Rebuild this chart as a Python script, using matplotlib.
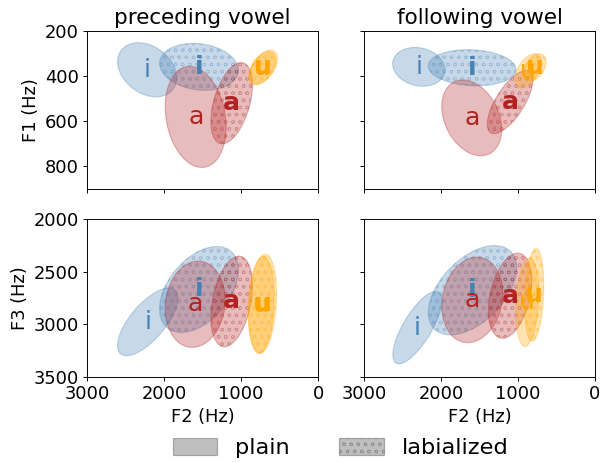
import numpy as np
import matplotlib
matplotlib.use('Agg')
import matplotlib.pyplot as plt
from matplotlib.patches import Ellipse, Patch

# vowel ellipses: mean F2, mean F1/F3, sd F2, sd F1/F3, correlation
vowels = ['i', 'i', 'a', 'a', 'u', 'u']
labialized = [False, True, False, True, False, True]
colors = {'i': 'steelblue', 'a': 'firebrick', 'u': 'orange'}

# preceding vowel, F1
pre_f2 = [2220, 1547, 1590, 1123, 725, 712]
pre_f1 = [373, 360, 582, 521, 366, 362]
pre_f2_sd = [192, 256, 198, 135, 88, 92]
pre_f1_sd = [60, 52, 112, 90, 36, 38]
pre_r1 = [-0.3, -0.15, -0.2, 0.45, 0.5, 0.5]

# following vowel, F1
fol_f2 = [2288, 1596, 1601, 1103, 870, 780]
fol_f1 = [360, 364, 586, 516, 378, 362]
fol_f2_sd = [170, 285, 195, 148, 85, 72]
fol_f1_sd = [43, 40, 84, 70, 38, 30]
fol_r1 = [-0.15, -0.1, -0.3, 0.7, 0.5, 0.4]

# preceding vowel, F3
pre_f2_3 = [2214, 1547, 1597, 1123, 740, 720]
pre_f3 = [2976, 2669, 2809, 2783, 2815, 2805]
pre_f2_sd3 = [196, 256, 195, 135, 85, 90]
pre_f3_sd = [161, 204, 205, 215, 230, 235]
pre_r3 = [0.7, 0.45, 0.1, 0.35, 0.15, 0.2]

# following vowel, F3
fol_f2_3 = [2308, 1591, 1594, 1103, 880, 790]
fol_f3 = [3031, 2676, 2768, 2728, 2790, 2720]
fol_f2_sd3 = [159, 287, 198, 141, 75, 62]
fol_f3_sd = [172, 212, 203, 202, 210, 220]
fol_r3 = [0.75, 0.5, 0.15, 0.35, 0.2, 0.2]

n_std = 2.0


def draw_ellipses(ax, mx, my, sx, sy, rr):
    for v, lab, x, y, a, b, r in zip(vowels, labialized, mx, my, sx, sy, rr):
        cov = np.array([[a * a, r * a * b], [r * a * b, b * b]])
        vals, vecs = np.linalg.eigh(cov)
        order = vals.argsort()[::-1]
        vals, vecs = vals[order], vecs[:, order]
        angle = np.degrees(np.arctan2(vecs[1, 0], vecs[0, 0]))
        w, h = 2 * n_std * np.sqrt(vals)
        c = colors[v]
        e = Ellipse((x, y), w, h, angle=angle, facecolor=c, edgecolor=c,
                    alpha=0.3, lw=1, hatch='oo' if lab else None)
        ax.add_patch(e)
        ax.text(x, y, v, color=c, fontsize=21, ha='center', va='center',
                fontweight='bold' if lab else 'normal')


plt.rcParams['hatch.linewidth'] = 0.6
fig, axes = plt.subplots(2, 2, figsize=(601 / 86, 462 / 86), dpi=86,
                         sharex=True, sharey='row')
fig.subplots_adjust(left=0.145, right=0.99, top=0.9335, bottom=0.184,
                    wspace=0.199, hspace=0.192)

draw_ellipses(axes[0, 0], pre_f2, pre_f1, pre_f2_sd, pre_f1_sd, pre_r1)
draw_ellipses(axes[0, 1], fol_f2, fol_f1, fol_f2_sd, fol_f1_sd, fol_r1)
draw_ellipses(axes[1, 0], pre_f2_3, pre_f3, pre_f2_sd3, pre_f3_sd, pre_r3)
draw_ellipses(axes[1, 1], fol_f2_3, fol_f3, fol_f2_sd3, fol_f3_sd, fol_r3)

for ax in axes.flat:
    ax.set_xlim(3000, 0)
    ax.set_xticks([3000, 2000, 1000, 0])
    ax.tick_params(labelsize=15)
axes[0, 0].set_ylim(900, 200)
axes[0, 0].set_yticks([200, 400, 600, 800])
axes[1, 0].set_ylim(3500, 2000)
axes[1, 0].set_yticks([2000, 2500, 3000, 3500])

axes[0, 0].set_title('preceding vowel', fontsize=18)
axes[0, 1].set_title('following vowel', fontsize=18)
axes[0, 0].set_ylabel('F1 (Hz)', fontsize=15)
axes[1, 0].set_ylabel('F3 (Hz)', fontsize=15)
axes[1, 0].set_xlabel('F2 (Hz)', fontsize=15)
axes[1, 1].set_xlabel('F2 (Hz)', fontsize=15)

handles = [Patch(facecolor='gray', edgecolor='dimgray', alpha=0.5, label='plain'),
           Patch(facecolor='gray', edgecolor='dimgray', alpha=0.5, hatch='oo',
                 label='labialized')]
fig.legend(handles=handles, loc='lower center', ncol=2, frameon=False,
           fontsize=18.8, bbox_to_anchor=(0.567, -0.035), handlelength=2.0,
           handleheight=0.8, columnspacing=2.2, handletextpad=0.8)

fig.savefig('out.png', dpi=86)
